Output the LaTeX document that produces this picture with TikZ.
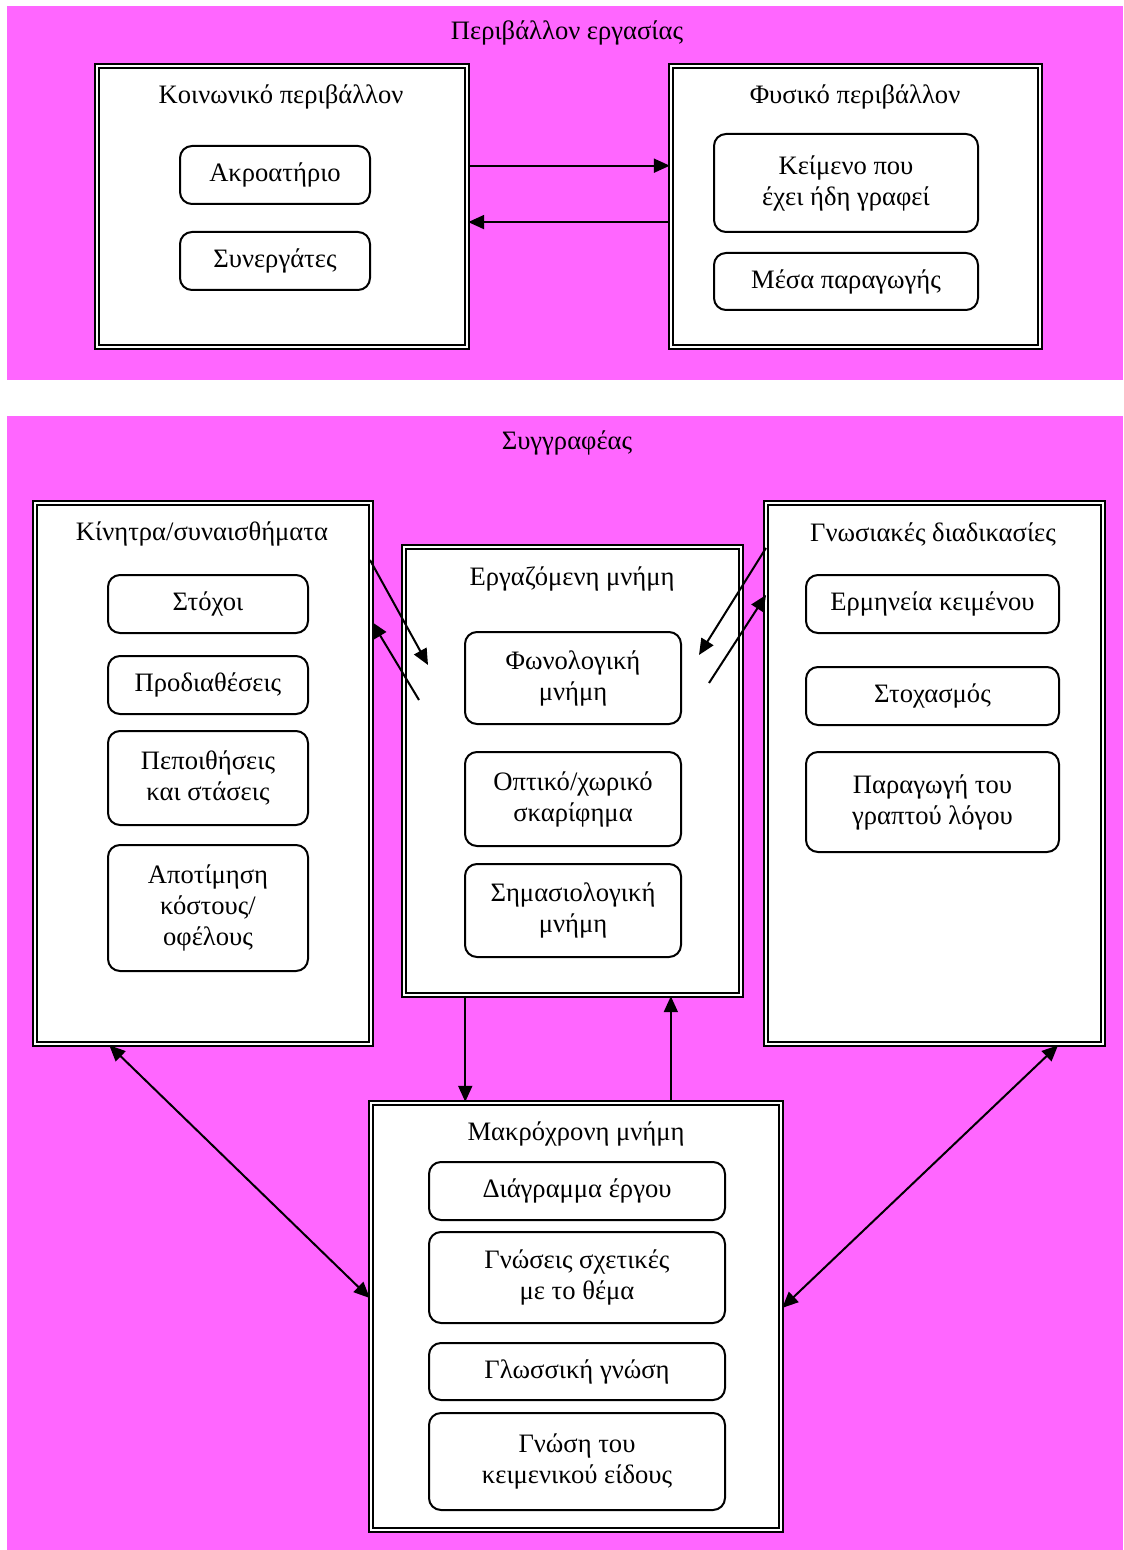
\documentclass[tikz,border=0pt]{standalone}
\usepackage{fontspec}
\setmainfont{Liberation Serif}
\usetikzlibrary{arrows.meta,calc}
\definecolor{panelpink}{RGB}{255,102,255}
\begin{document}
\begin{tikzpicture}[x=0.5pt,y=-0.5pt,
  font=\fontsize{13.3pt}{15.5pt}\selectfont,
  frame/.style={draw=black, line width=1.2pt, double=white, double distance=1pt, fill=white, inner sep=0pt},
  rb/.style={draw=black, line width=1pt, rounded corners=6pt, fill=white, align=center, inner sep=0pt},
  lbl/.style={inner sep=0pt, align=center},
  arr/.style={line width=1pt, -{Triangle[length=8pt,width=7pt]}},
  darr/.style={line width=1pt, {Triangle[length=8pt,width=7pt]}-{Triangle[length=8pt,width=7pt]}}]
\useasboundingbox (0,0) rectangle (1123,1550);

% background panels
\fill[panelpink] (7,6) rectangle (1123,380);
\fill[panelpink] (7,416) rectangle (1123,1550);

% ---------- work environment ----------
\node[lbl] (envtitle) at (567,33) {Περιβάλλον εργασίας};

\node[frame, minimum width=185pt, minimum height=140.5pt] (soc) at (282,206.5) {};
\node[frame, minimum width=184.5pt, minimum height=140.5pt] (phy) at (855.5,206.5) {};
\node[lbl] (soctitle) at (281,97) {Κοινωνικό περιβάλλον};
\node[lbl] (phytitle) at (855,97) {Φυσικό περιβάλλον};

\node[rb, minimum width=95pt, minimum height=29pt] (akr) at (275,175) {Ακροατήριο};
\node[rb, minimum width=95pt, minimum height=29pt] (syn) at (275,261) {Συνεργάτες};
\node[rb, minimum width=132pt, minimum height=49pt] (kei) at (846,183) {Κείμενο που\\έχει ήδη γραφεί};
\node[rb, minimum width=132pt, minimum height=28.5pt] (mes) at (846,281.5) {Μέσα παραγωγής};

\draw[arr] ($(soc.north east)!0.356!(soc.south east)$) coordinate (h1) -- (h1 -| phy.west);
\draw[arr] ($(phy.north west)!0.555!(phy.south west)$) coordinate (h2) -- (h2 -| soc.east);

% ---------- writer ----------
\node[lbl] (wrtitle) at (567,443) {Συγγραφέας};

\node[frame, minimum width=168pt, minimum height=270.5pt] (kin) at (203,773.5) {};
\node[frame, minimum width=168.5pt, minimum height=224pt] (erg) at (572.5,771) {};
\node[frame, minimum width=168.5pt, minimum height=270.5pt] (gno) at (934.5,773.5) {};
\node[frame, minimum width=205pt, minimum height=213.5pt] (mak) at (576,1316.5) {};

\node[lbl] (kintitle) at (202,534) {Κίνητρα/συναισθήματα};
\node[lbl] (ergtitle) at (572,579) {Εργαζόμενη μνήμη};
\node[lbl] (gnotitle) at (933,534) {Γνωσιακές διαδικασίες};
\node[lbl] (maktitle) at (576,1134) {Μακρόχρονη μνήμη};

% motives
\node[rb, minimum width=100pt, minimum height=29pt] (sto) at (208,604) {Στόχοι};
\node[rb, minimum width=100pt, minimum height=29pt] (pro) at (208,685) {Προδιαθέσεις};
\node[rb, minimum width=100pt, minimum height=47pt] (pep) at (208,778) {Πεποιθήσεις\\και στάσεις};
\node[rb, minimum width=100pt, minimum height=63pt] (apo) at (208,908) {Αποτίμηση\\κόστους/\\οφέλους};

% working memory
\node[rb, minimum width=108pt, minimum height=46pt] (fon) at (573,678) {Φωνολογική\\μνήμη};
\node[rb, minimum width=108pt, minimum height=47pt] (opt) at (573,799) {Οπτικό/χωρικό\\σκαρίφημα};
\node[rb, minimum width=108pt, minimum height=46.5pt] (sim) at (573,910.5) {Σημασιολογική\\μνήμη};

% cognitive processes
\node[rb, minimum width=126.5pt, minimum height=29pt] (erm) at (932.5,604) {Ερμηνεία κειμένου};
\node[rb, minimum width=126.5pt, minimum height=29pt] (stx) at (932.5,696) {Στοχασμός};
\node[rb, minimum width=126.5pt, minimum height=50pt] (par) at (932.5,802) {Παραγωγή του\\γραπτού λόγου};

% long-term memory
\node[rb, minimum width=148pt, minimum height=29pt] (dia) at (577,1191) {Διάγραμμα έργου};
\node[rb, minimum width=148pt, minimum height=45.5pt] (gns) at (577,1277.5) {Γνώσεις σχετικές\\με το θέμα};
\node[rb, minimum width=148pt, minimum height=28.5pt] (glo) at (577,1371.5) {Γλωσσική γνώση};
\node[rb, minimum width=148pt, minimum height=48.5pt] (gne) at (577,1461.5) {Γνώση του\\κειμενικού είδους};

% exchanges with working memory
\coordinate (k1) at (370,560);
\coordinate (e1) at (428,665);
\coordinate (e2) at (419,700);
\coordinate (k2) at (372,622);
\coordinate (g1) at (766,548);
\coordinate (e3) at (699,655);
\coordinate (e4) at (709,683);
\coordinate (g2) at (766,595);
\draw[arr] (k1) -- (e1);
\draw[arr] (e2) -- (k2);
\draw[arr] (g1) -- (e3);
\draw[arr] (e4) -- (g2);

% working memory <-> long-term memory
\draw[arr] ($(erg.south west)!0.184!(erg.south east)$) coordinate (d1) -- (d1 |- mak.north);
\draw[arr] ($(mak.north west)!0.73!(mak.north east)$) coordinate (u1) -- (u1 |- erg.south);

% long-term memory <-> side boxes
\draw[darr] ($(kin.south west)!0.223!(kin.south east)$) -- ($(mak.north west)!0.457!(mak.south west)$);
\draw[darr] ($(gno.south west)!0.864!(gno.south east)$) -- ($(mak.north east)!0.48!(mak.south east)$);
\end{tikzpicture}
\end{document}
